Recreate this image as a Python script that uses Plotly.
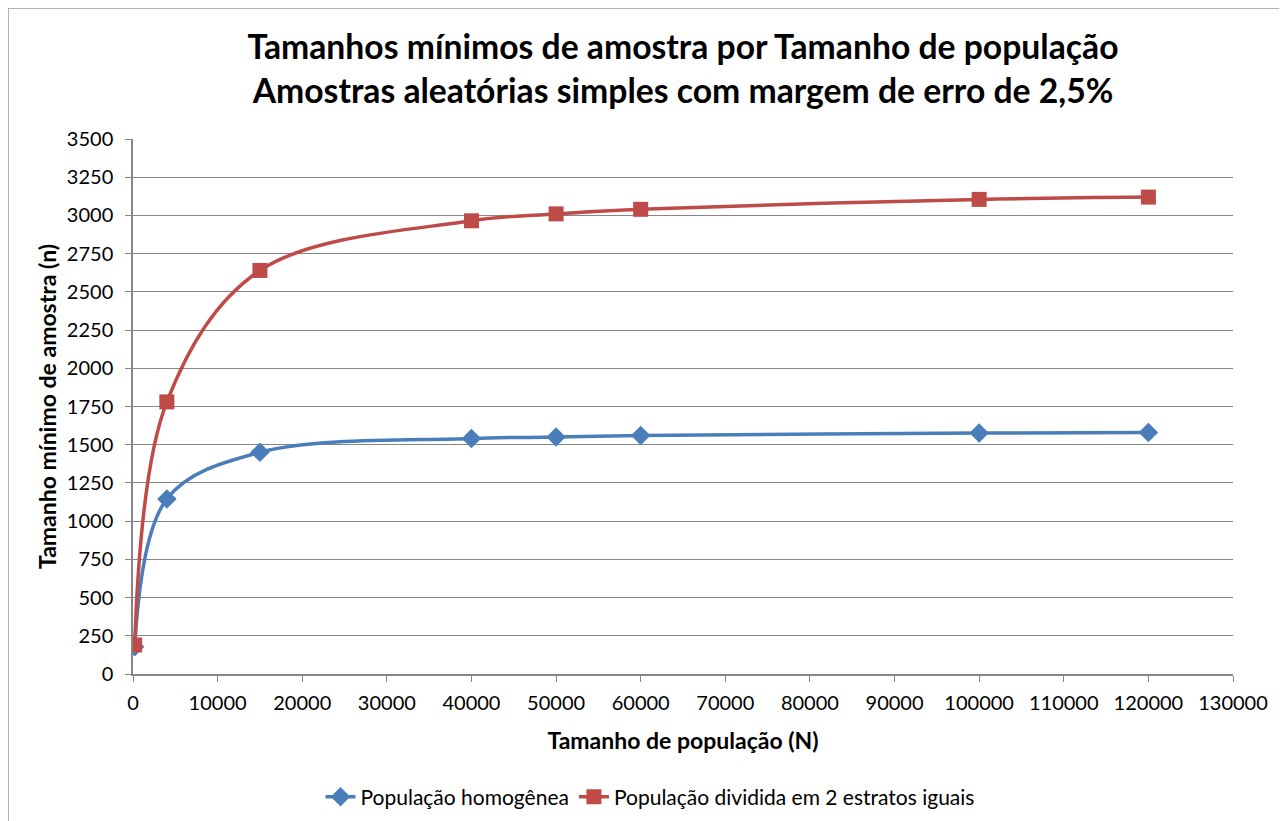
import plotly.graph_objects as go

N = [200, 4000, 15000, 40000, 50000, 60000, 100000, 120000]
homog = [178, 1145, 1450, 1540, 1550, 1560, 1576, 1580]
estratos = [190, 1780, 2640, 2965, 3010, 3040, 3105, 3120]
series_names = ["População homogênea", "População dividida em 2 estratos iguais"]
title_lines = ["Tamanhos mínimos de amostra por Tamanho de população",
               "Amostras aleatórias simples com margem de erro de 2,5%"]

# the page shows the figure offset by the body margin (8px)
OFF = 8
W, H = 1287, 821
plot_left, plot_right, plot_top, plot_bottom = 133 - OFF, 1233 - OFF, 139 - OFF, 674 - OFF
L, R, T, B = plot_left, W - plot_right, plot_top, H - plot_bottom
pw, ph = plot_right - plot_left, plot_bottom - plot_top

FONT = "Lato"
fig = go.Figure()
fig.add_trace(go.Scatter(x=N, y=homog, name=series_names[0], mode="lines+markers",
                         line=dict(color="#4A7EBB", width=3.5, shape="spline", smoothing=1.0),
                         marker=dict(symbol="diamond", size=15, color="#4A7EBB")))
fig.add_trace(go.Scatter(x=N, y=estratos, name=series_names[1], mode="lines+markers",
                         line=dict(color="#BE4B48", width=3.5, shape="spline", smoothing=1.0),
                         marker=dict(symbol="square", size=15, color="#BE4B48")))

fig.update_layout(
    width=W, height=H,
    margin=dict(l=L, r=R, t=T, b=B, autoexpand=False),
    paper_bgcolor="white", plot_bgcolor="white",
    font=dict(family=FONT, color="black", size=20),
    title=dict(text="<b>" + "<br>".join(title_lines) + "</b>",
               x=0.5, xref="paper", xanchor="center", y=1 - 51 / H, yanchor="middle",
               font=dict(family=FONT, size=33.7, color="black")),
    xaxis=dict(range=[0, 130000], dtick=10000, tick0=0, showgrid=False, tickformat="d",
               showline=True, linecolor="#868686", linewidth=1.5, automargin=False,
               ticks="outside", ticklen=6, tickcolor="#868686", ticklabelstandoff=4,
               tickfont=dict(size=20), zeroline=False,
               title=dict(text="<b>Tamanho de população (N)</b>", font=dict(size=23), standoff=20)),
    yaxis=dict(range=[0, 3500], dtick=250, tick0=0, showgrid=True, gridcolor="#868686", gridwidth=1.2,
               showline=True, linecolor="#868686", linewidth=1.5, automargin=False, tickformat="d",
               ticks="outside", ticklen=6, tickcolor="#868686", ticklabelstandoff=8,
               tickfont=dict(size=20), zeroline=False,
               title=dict(text="<b>Tamanho mínimo de amostra (n)</b>", font=dict(size=23), standoff=4)),
    legend=dict(orientation="h", x=0.47, xanchor="center", y=-(789 - plot_bottom) / ph, yanchor="middle",
                font=dict(size=21)),
    showlegend=True,
)
fig.add_shape(type="rect", xref="paper", yref="paper",
              x0=(0 - L) / pw, x1=1.3, y0=-0.5, y1=(plot_bottom - 0) / ph,
              line=dict(color="#999999", width=1.5), fillcolor="rgba(0,0,0,0)", layer="below")
fig.write_html("out.html")
